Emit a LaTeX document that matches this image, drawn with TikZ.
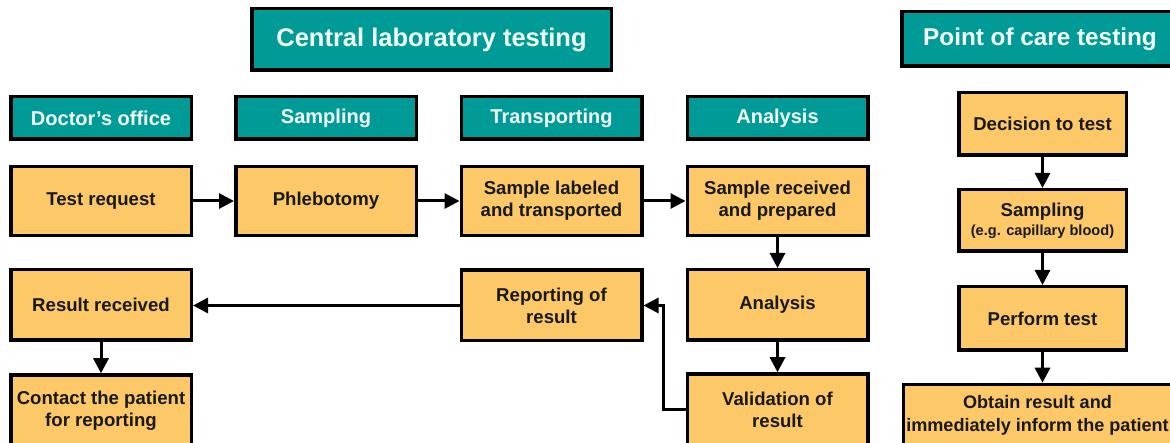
\documentclass[tikz,border=0pt]{standalone}
\usepackage{fontspec}
\setmainfont{Liberation Sans}
\usetikzlibrary{arrows.meta}
\definecolor{teal1}{RGB}{0,155,151}
\definecolor{orng}{RGB}{252,200,104}
\definecolor{hdtext}{RGB}{242,255,245}
\tikzset{
  hdr/.style={draw=black, line width=3.5pt, fill=teal1, text=hdtext, inner sep=0pt, align=center,
    font=\fontsize{20}{22}\selectfont\bfseries, minimum width=180.5pt, minimum height=42.5pt},
  bigh/.style={hdr, font=\fontsize{25.5}{28}\selectfont\bfseries},
  stepbox/.style={draw=black, line width=3.5pt, fill=orng, text=black!90, inner sep=0pt, align=center,
    font=\fontsize{18.6}{22}\selectfont\bfseries, minimum width=180.5pt, minimum height=69pt},
  arr/.style={line width=3pt, -{Triangle[length=15pt,width=15pt]}},
}
\begin{document}
\begin{tikzpicture}[x=1pt,y=-1pt]
\clip (0,0) rectangle (1170,443);
\fill[white] (0,0) rectangle (1170,443);
% headers
\node[bigh, minimum width=359.5pt, minimum height=61.5pt] (clt) at (431.5,39.5) {Central laboratory testing};
\node[bigh, minimum width=276.5pt, minimum height=54.5pt, font=\fontsize{24.3}{27}\selectfont\bfseries] (poc) at (1040,39) {Point of care testing};
\node[hdr] (h1) at (101,118) {Doctor’s office};
\node[hdr] (h2) at (326,118) {Sampling};
\node[hdr] (h3) at (551.5,118) {Transporting};
\node[hdr] (h4) at (777.5,118) {Analysis};
% row 1
\node[stepbox] (req) at (101,201) {Test request};
\node[stepbox] (phl) at (326,201) {Phlebotomy};
\node[stepbox] (lab) at (551.5,201) {Sample labeled\\and transported};
\node[stepbox] (rec) at (777.5,201) {Sample received\\and prepared};
% row 2
\node[stepbox, minimum height=70.5pt] (res) at (101,305) {Result received};
\node[stepbox, minimum height=70.5pt] (rep) at (551.5,305.5) {Reporting of\\result};
\node[stepbox, minimum height=70.5pt] (ana) at (777.5,305) {Analysis};
% row 3
\node[stepbox, minimum height=72pt] (con) at (101,411) {Contact the patient\\for reporting};
\node[stepbox, minimum height=72pt] (val) at (777.5,410) {Validation of\\result};
% point of care column
\node[stepbox, minimum width=167.5pt, minimum height=62.5pt] (dec) at (1042.5,124) {Decision to test};
\node[stepbox, minimum width=167.5pt, minimum height=61.5pt] (smp) at (1042.5,220.5) {Sampling\\[-3pt]{\fontsize{14.6}{16}\selectfont (e.g. capillary blood)}};
\node[stepbox, minimum width=167.5pt, minimum height=63.5pt] (prf) at (1042.5,318.5) {Perform test};
\node[stepbox, minimum width=268pt, minimum height=62pt, font=\fontsize{18.1}{22.5}\selectfont\bfseries] (obt) at (1037.5,415.5) {Obtain result and\\immediately inform the patient};
% connectors
\draw[arr] (req) -- (phl);
\draw[arr] (phl) -- (lab);
\draw[arr] (lab) -- (rec);
\draw[arr] (rec) -- (ana);
\draw[arr] (ana) -- (val);
\coordinate (fb) at (663,410);
\draw[arr] (val.west) -- (fb) |- (rep.east);
\draw[arr] (rep.west) -- (rep.west -| res.east);
\draw[arr] (res) -- (con);
\draw[arr] (dec) -- (smp);
\draw[arr] (smp) -- (prf);
\draw[arr] (prf.south) -- (prf.south |- obt.north);
\end{tikzpicture}
\end{document}
